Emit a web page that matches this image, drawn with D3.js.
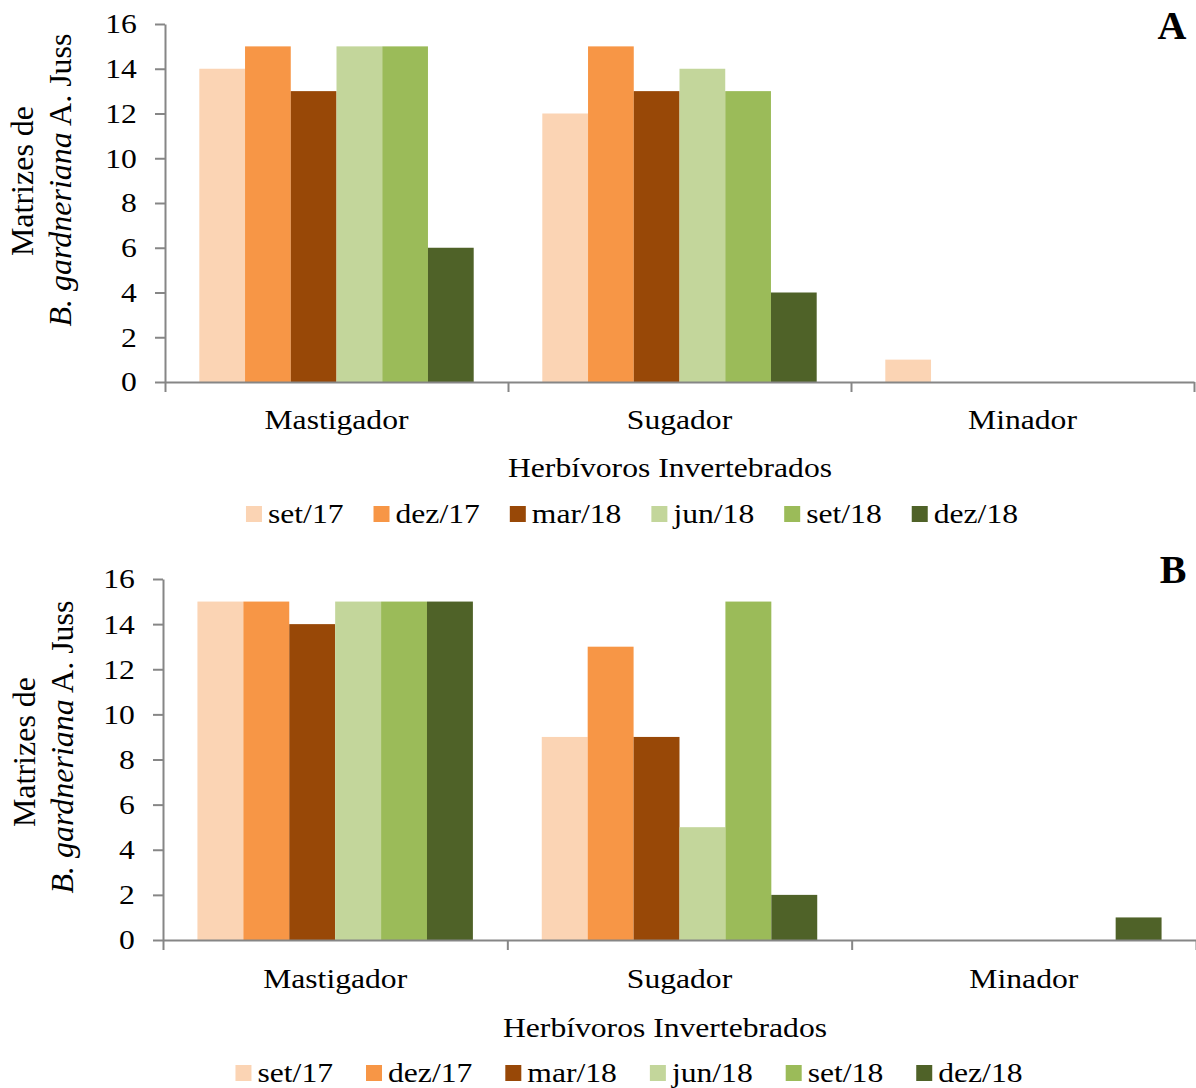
<!DOCTYPE html>
<html>
<meta charset="utf-8" />
<head>
<title>Herbivoros</title>
<style>
body { margin: 0; background: #fff; }
svg { display: block; }
svg text {
  font-family: "Liberation Serif", "Times New Roman", serif;
  fill: black;
}
</style>
<script src="https://d3js.org/d3.v7.min.js" charset="utf-8"></script>
</head>
<body>
<svg class="chart"></svg>

<script>
var chartWidth = 1196;
var chartHeight = 1088;

// data
var categories = ["Mastigador", "Sugador", "Minador"];
var seriesNames = ["set/17", "dez/17", "mar/18", "jun/18", "set/18", "dez/18"];
var seriesColors = ["#FBD4B4", "#F79646", "#984807", "#C3D69B", "#9BBB59", "#4F6228"];
var yTicks = [0, 2, 4, 6, 8, 10, 12, 14, 16];

// values per category, one per series (A = top panel, B = bottom panel)
var valuesA = [
  [14, 15, 13, 15, 15, 6],
  [12, 15, 13, 14, 13, 4],
  [1, 0, 0, 0, 0, 0]
];
var valuesB = [
  [15, 15, 14, 15, 15, 15],
  [9, 13, 9, 5, 15, 2],
  [0, 0, 0, 0, 0, 1]
];

var SX = 1.13;   // horizontal stretch of the original figure's text
var FS = 28;
var axisColor = "#868686";

var svg = d3.select(".chart")
  .attr("width", chartWidth)
  .attr("height", chartHeight);

function stretchText(g, x, y, str, anchor) {
  return g.append("text")
    .attr("transform", "translate(" + x + "," + y + ") scale(" + SX + ",1)")
    .attr("text-anchor", anchor || "middle")
    .style("font-size", FS + "px")
    .text(str);
}

function drawPanel(values, p) {
  var g = svg.append("g");

  var y = d3.scaleLinear().domain([0, 16]).range([p.yBottom, p.yTop]);
  var x = d3.scaleBand().domain(categories).range([p.x0, p.x1]).padding(0);
  var xs = d3.scaleBand().domain(seriesNames).range([0, x.bandwidth()])
    .paddingInner(0).paddingOuter(0.75);
  var color = d3.scaleOrdinal().domain(seriesNames).range(seriesColors);

  // bars
  var groups = g.selectAll("g.cat")
    .data(categories)
    .enter().append("g")
    .attr("class", "cat")
    .attr("transform", function(d) { return "translate(" + x(d) + ",0)"; });

  groups.selectAll("rect")
    .data(function(d, i) {
      return values[i].map(function(v, j) { return { s: seriesNames[j], v: v }; });
    })
    .enter().append("rect")
    .attr("x", function(d) { return xs(d.s); })
    .attr("width", xs.bandwidth())
    .attr("y", function(d) { return y(d.v); })
    .attr("height", function(d) { return y(0) - y(d.v); })
    .attr("fill", function(d) { return color(d.s); });

  // y axis
  var yAxis = g.append("g")
    .attr("transform", "translate(" + p.x0 + ",0)")
    .call(d3.axisLeft(y).tickValues(yTicks).tickSizeInner(10).tickSizeOuter(0).tickPadding(15));
  yAxis.select(".domain").attr("stroke", axisColor).attr("stroke-width", 2);
  yAxis.selectAll(".tick line").attr("stroke", axisColor).attr("stroke-width", 2);
  yAxis.selectAll(".tick text")
    .style("font-size", FS + "px")
    .attr("fill", "black")
    .attr("transform", "scale(" + SX + ",1)");

  // x axis line and category boundary ticks
  var xb = d3.scaleLinear().domain([0, 3]).range([p.x0, p.x1]);
  var xAxis = g.append("g")
    .attr("transform", "translate(0," + p.yBottom + ")")
    .call(d3.axisBottom(xb).tickValues([0, 1, 2, 3]).tickFormat("").tickSizeInner(10).tickSizeOuter(0));
  xAxis.select(".domain").attr("stroke", axisColor).attr("stroke-width", 2);
  xAxis.selectAll(".tick line").attr("stroke", axisColor).attr("stroke-width", 2);

  // category labels
  categories.forEach(function(c) {
    stretchText(g, x(c) + x.bandwidth() / 2, p.catBase, c);
  });

  // x title
  stretchText(g, p.titleX, p.titleBase, "Herbívoros Invertebrados");

  // y title (two lines)
  g.append("text")
    .attr("transform", "translate(" + p.yl1x + "," + p.yl1y + ") rotate(-90)")
    .attr("text-anchor", "middle")
    .style("font-size", "32px")
    .text("Matrizes de");
  var t2 = g.append("text")
    .attr("transform", "translate(" + p.yl2x + "," + p.yl2y + ") rotate(-90)")
    .attr("text-anchor", "middle")
    .style("font-size", "32px");
  t2.append("tspan").style("font-style", "italic").text("B. gardneriana");
  t2.append("tspan").text(" A. Juss");

  // panel letter
  g.append("text")
    .attr("x", p.letterX)
    .attr("y", p.letterBase)
    .attr("text-anchor", "middle")
    .style("font-size", "40px")
    .style("font-weight", "bold")
    .text(p.letter);

  // legend
  var leg = g.append("g");
  var cx = 0;
  seriesNames.forEach(function(s) {
    var it = leg.append("g");
    it.append("rect")
      .attr("x", 0).attr("y", -17)
      .attr("width", 16).attr("height", 16)
      .attr("fill", color(s));
    var t = stretchText(it, 22, 0, s, "start");
    var w = t.node().getComputedTextLength() * SX;
    it.attr("transform", "translate(" + cx + "," + p.legBase + ")");
    cx += 22 + w + p.legGap;
  });
  var total = cx - p.legGap;
  leg.attr("transform", "translate(" + (p.legCenter - total / 2) + ",0)");
}

drawPanel(valuesA, {
  x0: 165, x1: 1194, yTop: 24, yBottom: 382,
  catBase: 429, titleX: 670, titleBase: 477,
  yl1x: 33, yl1y: 181, yl2x: 71, yl2y: 180,
  letter: "A", letterX: 1172, letterBase: 39,
  legBase: 523, legCenter: 632, legGap: 30
});

drawPanel(valuesB, {
  x0: 163, x1: 1196, yTop: 579, yBottom: 940,
  catBase: 988, titleX: 665, titleBase: 1037,
  yl1x: 35, yl1y: 752, yl2x: 73, yl2y: 747,
  letter: "B", letterX: 1173, letterBase: 583,
  legBase: 1082, legCenter: 629, legGap: 33
});
</script>
</body>
</html>
